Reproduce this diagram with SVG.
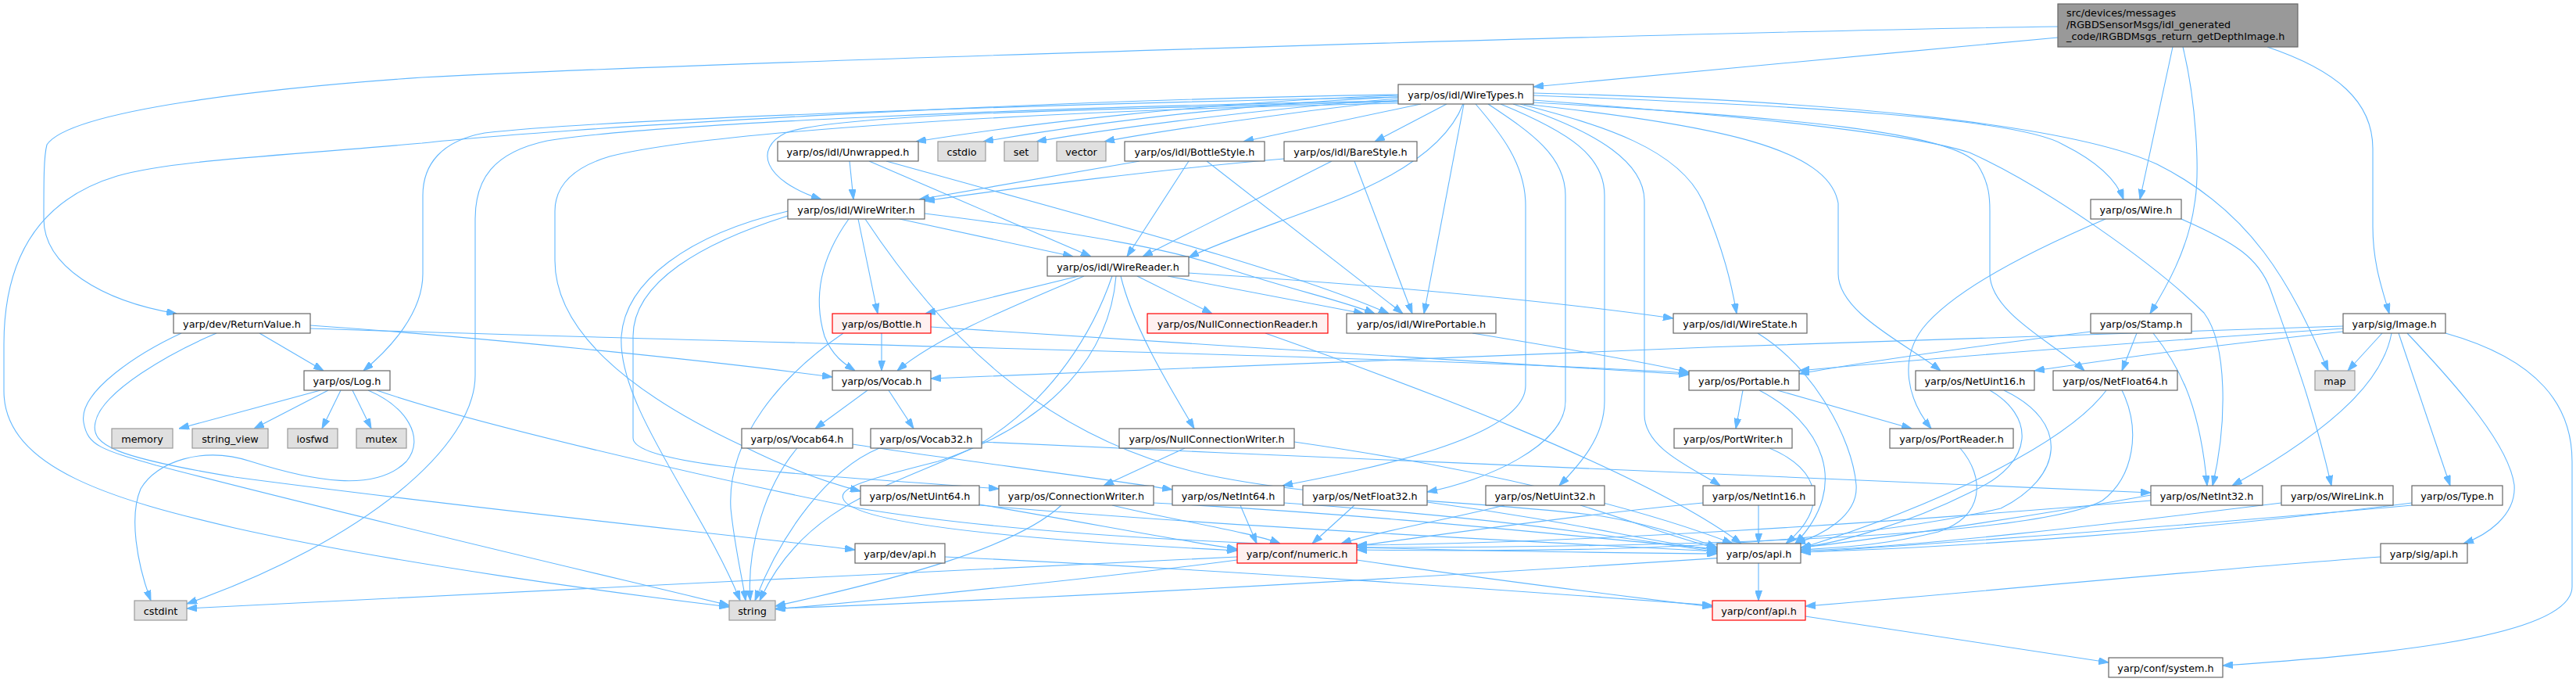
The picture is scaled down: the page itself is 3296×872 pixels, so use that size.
<svg xmlns="http://www.w3.org/2000/svg" width="3296" height="872" viewBox="0 0 3296 872">
<defs>
<marker id="ah" markerWidth="13" markerHeight="9" viewBox="0 0 13 9" refX="13" refY="4.5" orient="auto" markerUnits="userSpaceOnUse"><path d="M0,0 L13,4.5 L0,9 z" fill="#63b8ff" stroke="#63b8ff" stroke-width="1"/></marker>
</defs>
<style>
.e path{fill:none;stroke:#63b8ff;stroke-width:1.1;marker-end:url(#ah)}
.n rect{fill:#ffffff;stroke:#666666;stroke-width:1.2}
.g rect{fill:#e0e0e0;stroke:#999999;stroke-width:1.2}
.r rect{fill:#fff0f0;stroke:#ff0000;stroke-width:1.2}
.root rect{fill:#999999;stroke:#666666;stroke-width:1.2}
text{font-family:"DejaVu Sans",Verdana,sans-serif;font-size:12.8px;fill:#000000;text-anchor:middle}
.root text{text-anchor:start}
</style>
<rect width="3296" height="872" fill="#ffffff"/>
<g id="edges" class="e">
<path d="M2633,48 C2400,70 2100,97 1962,111"/>
<path d="M2633,34 C2200,40 900,80 540,99 C350,112 90,140 60,185 C56,200 56,230 56,280 C56,340 130,385 226,401"/>
<path d="M2780,60 L2738,255"/>
<path d="M2793,60 C2810,130 2815,220 2808,260 C2800,320 2770,370 2751,401"/>
<path d="M2901,60 C2990,90 3036,130 3036,190 L3036,290 C3036,340 3050,375 3057,401"/>
<path d="M1789,122 C1550,130 1300,160 1172,181"/>
<path d="M1789,124 C1550,135 1350,165 1258,181"/>
<path d="M1789,126 C1580,142 1400,168 1326,181"/>
<path d="M1789,128 C1640,145 1480,168 1413,181"/>
<path d="M1818,133 L1591,181"/>
<path d="M1851,133 L1759,181"/>
<path d="M1789,130 C1400,140 1070,145 1005,170 C965,190 975,230 1051,255"/>
<path d="M1789,124 C1400,132 800,150 620,170 C565,180 541,210 541,250 L541,350 C541,400 500,445 465,474"/>
<path d="M1789,121 C1300,128 700,165 540,183 C350,200 220,205 150,225 C50,255 5,330 5,440 L5,500 C5,600 150,640 300,675 C500,720 800,760 933,776"/>
<path d="M1789,129 C1300,137 820,160 700,180 C630,195 608,230 608,280 L608,480 C608,570 470,690 239,772"/>
<path d="M1789,132 C1300,142 900,170 780,200 C730,215 710,240 710,270 L710,333 C710,420 800,500 950,570 C1000,595 1050,615 1101,628"/>
<path d="M1872,133 C1850,190 1780,230 1700,260 C1620,290 1560,310 1521,329"/>
<path d="M1873,133 L1822,401"/>
<path d="M1945,133 C2050,160 2150,190 2180,260 C2205,320 2215,360 2222,401"/>
<path d="M1962,122 C2300,135 2580,150 2640,185 C2690,210 2710,235 2717,255"/>
<path d="M1962,119 C2350,128 2650,160 2760,210 C2880,270 2930,360 2979,474"/>
<path d="M1962,128 C2250,150 2440,170 2520,195 C2620,240 2760,340 2820,400 C2850,440 2850,540 2831,621"/>
<path d="M1950,133 C2200,160 2340,190 2352,260 L2352,350 C2352,400 2440,440 2483,474"/>
<path d="M1962,131 C2300,150 2500,170 2530,210 C2546,235 2546,255 2546,270 L2546,350 C2546,400 2630,440 2667,474"/>
<path d="M1888,133 C1920,170 1952,210 1952,263 L1952,493 C1952,560 1750,600 1641,621"/>
<path d="M1904,133 C1960,170 2003,200 2003,250 L2003,513 C2003,570 1900,615 1826,629"/>
<path d="M1920,133 C2010,170 2053,200 2053,250 L2053,513 C2053,560 2020,595 1995,621"/>
<path d="M1936,133 C2050,170 2104,210 2104,257 L2104,530 C2104,575 2170,600 2201,621"/>
<path d="M1087,206 L1092,255"/>
<path d="M1112,206 L1396,328"/>
<path d="M1134,206 C1400,280 1650,345 1777,401"/>
<path d="M1458,206 L1176,255"/>
<path d="M1521,206 L1442,328"/>
<path d="M1544,206 L1795,401"/>
<path d="M1643,203 C1500,215 1300,240 1183,257"/>
<path d="M1704,206 L1462,328"/>
<path d="M1733,206 L1807,401"/>
<path d="M1151,280 L1373,328"/>
<path d="M1098,280 L1123,401"/>
<path d="M1183,273 C1400,300 1500,320 1560,340 C1650,370 1720,385 1759,401"/>
<path d="M1107,280 C1200,420 1330,560 1544,607 C1700,640 1900,640 2050,660 C2120,672 2170,690 2197,700"/>
<path d="M1086,280 C1050,330 1040,380 1055,430 C1065,455 1080,465 1094,474"/>
<path d="M1008,270 C880,300 800,360 795,430 C790,520 900,650 947,768"/>
<path d="M1008,276 C900,310 810,360 810,430 L810,560 C810,600 1100,610 1278,625"/>
<path d="M1380,353 L1184,401"/>
<path d="M1387,353 C1300,390 1200,430 1148,474"/>
<path d="M1423,353 C1400,420 1350,510 1250,570 C1150,620 1030,640 972,768"/>
<path d="M1428,353 C1420,450 1350,540 1200,590 C1100,615 1070,625 1080,640 C1100,670 1300,690 1583,704"/>
<path d="M1434,353 C1450,420 1500,500 1528,548"/>
<path d="M1455,353 L1551,401"/>
<path d="M1494,353 L1745,401"/>
<path d="M1521,349 C1700,360 1950,380 2141,407"/>
<path d="M1128,426 L1128,474"/>
<path d="M1191,418 C1500,440 1900,460 2161,479"/>
<path d="M1079,426 C1000,480 930,560 935,650 C940,700 950,740 954,768"/>
<path d="M332,426 L414,474"/>
<path d="M232,426 C180,450 100,500 107,540 C112,570 130,575 200,595 C450,660 750,730 933,774"/>
<path d="M277,426 C220,450 130,500 122,540 C115,570 150,585 300,610 C600,650 900,680 1094,703"/>
<path d="M397,416 C600,430 900,460 1065,482"/>
<path d="M397,420 C1000,440 1800,455 2161,477"/>
<path d="M410,499 L229,548"/>
<path d="M420,499 L325,548"/>
<path d="M436,499 L412,548"/>
<path d="M451,499 L475,548"/>
<path d="M471,499 C520,520 545,560 520,590 C480,630 400,615 321,590 C260,570 200,590 180,625 C165,660 175,720 193,768"/>
<path d="M482,499 C600,540 900,610 1100,650 C1400,700 1900,705 2197,708"/>
<path d="M1110,499 L1043,548"/>
<path d="M1137,499 L1169,548"/>
<path d="M1020,573 C980,620 955,700 960,768"/>
<path d="M1091,568 C1200,585 1400,610 1500,626"/>
<path d="M1125,573 C1060,600 1000,680 966,768"/>
<path d="M1256,565 C1800,590 2400,615 2752,630"/>
<path d="M1516,573 L1412,621"/>
<path d="M1656,565 C1900,600 2100,650 2217,695"/>
<path d="M1619,426 C1800,490 2100,600 2228,695"/>
<path d="M2230,499 L2221,548"/>
<path d="M2274,499 L2446,548"/>
<path d="M2251,499 C2330,540 2370,620 2297,695"/>
<path d="M2264,573 C2330,600 2340,650 2285,695"/>
<path d="M2508,573 C2540,610 2540,660 2480,680 C2400,700 2340,700 2304,703"/>
<path d="M2546,499 C2600,530 2610,590 2520,630 C2440,670 2350,695 2304,700"/>
<path d="M2564,499 C2650,540 2640,610 2560,650 C2300,710 1900,705 1736,703"/>
<path d="M2695,499 C2650,560 2500,640 2304,701"/>
<path d="M2715,499 C2740,550 2730,610 2690,640 C2600,690 2100,700 1736,700"/>
<path d="M2250,646 L2250,695"/>
<path d="M2179,643 C2000,660 1800,690 1736,698"/>
<path d="M1925,646 C1850,665 1760,680 1716,695"/>
<path d="M2022,646 C2100,670 2150,690 2197,701"/>
<path d="M1733,646 L1679,695"/>
<path d="M1826,642 C2000,665 2100,690 2197,704"/>
<path d="M1587,646 L1608,695"/>
<path d="M1643,643 C1900,660 2100,690 2197,706"/>
<path d="M1423,646 C1500,665 1600,680 1638,695"/>
<path d="M1358,646 C1300,700 1150,740 992,775"/>
<path d="M1476,643 C1800,660 2050,690 2197,702"/>
<path d="M1253,645 C1400,670 1500,690 1583,702"/>
<path d="M1253,646 C1500,668 1900,690 2197,705"/>
<path d="M1209,712 C1600,730 2000,760 2191,774"/>
<path d="M1583,712 C1200,730 600,760 239,778"/>
<path d="M1736,716 C1900,740 2100,765 2191,776"/>
<path d="M1583,716 C1400,740 1150,765 992,779"/>
<path d="M2250,720 L2250,768"/>
<path d="M2310,788 L2698,847"/>
<path d="M3046,712 C2800,730 2500,760 2310,775"/>
<path d="M2675,424 C2550,440 2400,460 2302,478"/>
<path d="M2734,426 L2715,474"/>
<path d="M2755,426 C2790,470 2815,520 2824,621"/>
<path d="M2694,280 C2600,320 2500,370 2460,420 C2430,460 2440,510 2471,548"/>
<path d="M2791,280 C2860,310 2890,330 2905,370 C2930,440 2960,520 2983,621"/>
<path d="M3048,426 L3004,474"/>
<path d="M3060,426 C3050,480 3000,540 2856,621"/>
<path d="M3069,426 L3135,621"/>
<path d="M3080,426 C3150,500 3210,570 3217,620 C3220,660 3180,685 3152,695"/>
<path d="M3129,426 C3250,460 3291,520 3291,590 L3291,750 C3291,820 3000,840 2844,851"/>
<path d="M2998,417 C2500,430 1500,470 1191,484"/>
<path d="M2998,420 C2700,440 2450,460 2302,474"/>
<path d="M2998,424 C2800,445 2700,460 2603,474"/>
<path d="M3086,643 C2800,680 2500,700 2304,706"/>
<path d="M3086,646 C2500,700 1500,760 992,778"/>
<path d="M2919,643 C2700,670 2450,700 2304,704"/>
<path d="M2752,633 C2600,660 2400,690 2304,700"/>
<path d="M2752,640 C2400,670 2000,695 1736,697"/>
<path d="M2249,426 C2320,470 2370,560 2375,620 C2378,660 2330,685 2297,695"/>
<path d="M1884,426 C2000,445 2100,462 2161,476"/>
</g>
<g id="n_root" class="root"><rect x="2633" y="5" width="307" height="55"/><text x="2644" y="21">src/devices/messages</text><text x="2644" y="36">/RGBDSensorMsgs/idl_generated</text><text x="2644" y="51">_code/IRGBDMsgs_return_getDepthImage.h</text></g>
<g id="n_WireTypes" class="n"><rect x="1789" y="108" width="173" height="25"/><text x="1875.5" y="125.5">yarp/os/idl/WireTypes.h</text></g>
<g id="n_Unwrapped" class="n"><rect x="995" y="181" width="180" height="25"/><text x="1085" y="198.5">yarp/os/idl/Unwrapped.h</text></g>
<g id="n_cstdio" class="g"><rect x="1200" y="181" width="61" height="25"/><text x="1230.5" y="198.5">cstdio</text></g>
<g id="n_set" class="g"><rect x="1285" y="181" width="43" height="25"/><text x="1306.5" y="198.5">set</text></g>
<g id="n_vector" class="g"><rect x="1352" y="181" width="63" height="25"/><text x="1383.5" y="198.5">vector</text></g>
<g id="n_BottleStyle" class="n"><rect x="1439" y="181" width="179" height="25"/><text x="1528.5" y="198.5">yarp/os/idl/BottleStyle.h</text></g>
<g id="n_BareStyle" class="n"><rect x="1643" y="181" width="170" height="25"/><text x="1728" y="198.5">yarp/os/idl/BareStyle.h</text></g>
<g id="n_WireWriter" class="n"><rect x="1008" y="255" width="175" height="25"/><text x="1095.5" y="272.5">yarp/os/idl/WireWriter.h</text></g>
<g id="n_Wire" class="n"><rect x="2675" y="255" width="116" height="25"/><text x="2733" y="272.5">yarp/os/Wire.h</text></g>
<g id="n_WireReader" class="n"><rect x="1340" y="328" width="181" height="25"/><text x="1430.5" y="345.5">yarp/os/idl/WireReader.h</text></g>
<g id="n_ReturnValue" class="n"><rect x="222" y="401" width="175" height="25"/><text x="309.5" y="418.5">yarp/dev/ReturnValue.h</text></g>
<g id="n_Bottle" class="r"><rect x="1065" y="401" width="126" height="25"/><text x="1128" y="418.5">yarp/os/Bottle.h</text></g>
<g id="n_NullConnectionReader" class="r"><rect x="1468" y="401" width="231" height="25"/><text x="1583.5" y="418.5">yarp/os/NullConnectionReader.h</text></g>
<g id="n_WirePortable" class="n"><rect x="1723" y="401" width="191" height="25"/><text x="1818.5" y="418.5">yarp/os/idl/WirePortable.h</text></g>
<g id="n_WireState" class="n"><rect x="2141" y="401" width="171" height="25"/><text x="2226.5" y="418.5">yarp/os/idl/WireState.h</text></g>
<g id="n_Stamp" class="n"><rect x="2675" y="401" width="129" height="25"/><text x="2739.5" y="418.5">yarp/os/Stamp.h</text></g>
<g id="n_Image" class="n"><rect x="2998" y="401" width="131" height="25"/><text x="3063.5" y="418.5">yarp/sig/Image.h</text></g>
<g id="n_Log" class="n"><rect x="389" y="474" width="110" height="25"/><text x="444" y="491.5">yarp/os/Log.h</text></g>
<g id="n_Vocab" class="n"><rect x="1065" y="474" width="126" height="25"/><text x="1128" y="491.5">yarp/os/Vocab.h</text></g>
<g id="n_Portable" class="n"><rect x="2161" y="474" width="141" height="25"/><text x="2231.5" y="491.5">yarp/os/Portable.h</text></g>
<g id="n_NetUint16" class="n"><rect x="2451" y="474" width="152" height="25"/><text x="2527" y="491.5">yarp/os/NetUint16.h</text></g>
<g id="n_NetFloat64" class="n"><rect x="2627" y="474" width="159" height="25"/><text x="2706.5" y="491.5">yarp/os/NetFloat64.h</text></g>
<g id="n_map" class="g"><rect x="2962" y="474" width="51" height="25"/><text x="2987.5" y="491.5">map</text></g>
<g id="n_memory" class="g"><rect x="143" y="548" width="78" height="25"/><text x="182" y="565.5">memory</text></g>
<g id="n_string_view" class="g"><rect x="246" y="548" width="97" height="25"/><text x="294.5" y="565.5">string_view</text></g>
<g id="n_iosfwd" class="g"><rect x="368" y="548" width="64" height="25"/><text x="400" y="565.5">iosfwd</text></g>
<g id="n_mutex" class="g"><rect x="456" y="548" width="64" height="25"/><text x="488" y="565.5">mutex</text></g>
<g id="n_Vocab64" class="n"><rect x="949" y="548" width="142" height="25"/><text x="1020" y="565.5">yarp/os/Vocab64.h</text></g>
<g id="n_Vocab32" class="n"><rect x="1114" y="548" width="142" height="25"/><text x="1185" y="565.5">yarp/os/Vocab32.h</text></g>
<g id="n_NullConnectionWriter" class="n"><rect x="1432" y="548" width="224" height="25"/><text x="1544" y="565.5">yarp/os/NullConnectionWriter.h</text></g>
<g id="n_PortWriter" class="n"><rect x="2142" y="548" width="151" height="25"/><text x="2217.5" y="565.5">yarp/os/PortWriter.h</text></g>
<g id="n_PortReader" class="n"><rect x="2418" y="548" width="158" height="25"/><text x="2497" y="565.5">yarp/os/PortReader.h</text></g>
<g id="n_NetUint64" class="n"><rect x="1101" y="621" width="152" height="25"/><text x="1177" y="638.5">yarp/os/NetUint64.h</text></g>
<g id="n_ConnectionWriter" class="n"><rect x="1278" y="621" width="198" height="25"/><text x="1377" y="638.5">yarp/os/ConnectionWriter.h</text></g>
<g id="n_NetInt64" class="n"><rect x="1500" y="621" width="143" height="25"/><text x="1571.5" y="638.5">yarp/os/NetInt64.h</text></g>
<g id="n_NetFloat32" class="n"><rect x="1667" y="621" width="159" height="25"/><text x="1746.5" y="638.5">yarp/os/NetFloat32.h</text></g>
<g id="n_NetUint32" class="n"><rect x="1901" y="621" width="152" height="25"/><text x="1977" y="638.5">yarp/os/NetUint32.h</text></g>
<g id="n_NetInt16" class="n"><rect x="2179" y="621" width="143" height="25"/><text x="2250.5" y="638.5">yarp/os/NetInt16.h</text></g>
<g id="n_NetInt32" class="n"><rect x="2752" y="621" width="143" height="25"/><text x="2823.5" y="638.5">yarp/os/NetInt32.h</text></g>
<g id="n_WireLink" class="n"><rect x="2919" y="621" width="143" height="25"/><text x="2990.5" y="638.5">yarp/os/WireLink.h</text></g>
<g id="n_Type" class="n"><rect x="3086" y="621" width="116" height="25"/><text x="3144" y="638.5">yarp/os/Type.h</text></g>
<g id="n_devapi" class="n"><rect x="1094" y="695" width="115" height="25"/><text x="1151.5" y="712.5">yarp/dev/api.h</text></g>
<g id="n_numeric" class="r"><rect x="1583" y="695" width="153" height="25"/><text x="1659.5" y="712.5">yarp/conf/numeric.h</text></g>
<g id="n_osapi" class="n"><rect x="2197" y="695" width="107" height="25"/><text x="2250.5" y="712.5">yarp/os/api.h</text></g>
<g id="n_sigapi" class="n"><rect x="3046" y="695" width="111" height="25"/><text x="3101.5" y="712.5">yarp/sig/api.h</text></g>
<g id="n_cstdint" class="g"><rect x="172" y="768" width="67" height="25"/><text x="205.5" y="785.5">cstdint</text></g>
<g id="n_string" class="g"><rect x="933" y="768" width="59" height="25"/><text x="962.5" y="785.5">string</text></g>
<g id="n_confapi" class="r"><rect x="2191" y="768" width="119" height="25"/><text x="2250.5" y="785.5">yarp/conf/api.h</text></g>
<g id="n_system" class="n"><rect x="2698" y="841" width="146" height="25"/><text x="2771" y="858.5">yarp/conf/system.h</text></g>
</svg>
